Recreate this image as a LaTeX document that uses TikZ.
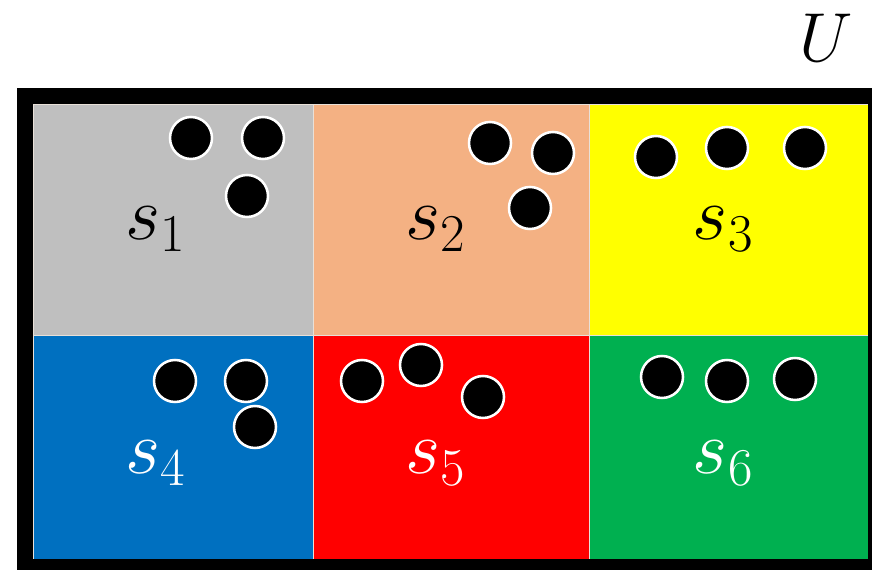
\RequirePackage{fix-cm}
\documentclass[tikz,border=0pt]{standalone}
\definecolor{cellgray}{HTML}{BFBFBF}
\definecolor{cellorange}{HTML}{F4B183}
\definecolor{cellyellow}{HTML}{FFFF00}
\definecolor{cellblue}{HTML}{0070C0}
\definecolor{cellred}{HTML}{FF0000}
\definecolor{cellgreen}{HTML}{00B050}
\definecolor{seam}{HTML}{E8E0D8}
\begin{document}
\begin{tikzpicture}[x=0.75pt,y=-0.75pt,
  cell/.style={draw=seam,line width=0.6pt},
  pt/.style={circle,fill=black,draw=white,line width=1.9pt,minimum size=31.5pt,inner sep=0pt},
  setlabel/.style={anchor=base,inner sep=0pt,font=\fontsize{57}{64}\selectfont},
]
\useasboundingbox (0,0) rectangle (872,570);
\fill[white] (0,0) rectangle (872,570);
% universe frame
\fill[black] (17,88) rectangle (890,590);
% partition cells
\path[cell,fill=cellgray]   (33,104)  rectangle (313,335);
\path[cell,fill=cellorange] (313,104) rectangle (589,335);
\path[cell,fill=cellyellow] (589,104) rectangle (868,335);
\path[cell,fill=cellblue]   (33,335)  rectangle (313,559);
\path[cell,fill=cellred]    (313,335) rectangle (589,559);
\path[cell,fill=cellgreen]  (589,335) rectangle (868,559);
\fill[black] (17,559) rectangle (890,590);
\fill[black] (868,88) rectangle (890,590);
% universe label
\node[anchor=base,inner sep=0pt,font=\fontsize{52}{60}\selectfont] (U) at (826,62) {$U$};
% set labels
\node[setlabel] (l1) at (156,240) {$s_1$};
\node[setlabel] (l2) at (436,240) {$s_2$};
\node[setlabel] (l3) at (723,240) {$s_3$};
\node[setlabel,text=white] (l4) at (156,474) {$s_4$};
\node[setlabel,text=white] (l5) at (436,474) {$s_5$};
\node[setlabel,text=white] (l6) at (723,474) {$s_6$};
% elements
\node[pt] (a1) at (191,138) {};
\node[pt] (a2) at (263,138) {};
\node[pt] (a3) at (247,196) {};
\node[pt] (b1) at (490,143) {};
\node[pt] (b2) at (553,153) {};
\node[pt] (b3) at (530,208) {};
\node[pt] (c1) at (656,157) {};
\node[pt] (c2) at (727,148) {};
\node[pt] (c3) at (805,148) {};
\node[pt] (d1) at (175,381) {};
\node[pt] (d2) at (246,381) {};
\node[pt] (d3) at (255,427) {};
\node[pt] (e1) at (362,381) {};
\node[pt] (e2) at (421,365) {};
\node[pt] (e3) at (483,397) {};
\node[pt] (f1) at (662,377) {};
\node[pt] (f2) at (727,381) {};
\node[pt] (f3) at (795,379) {};
\end{tikzpicture}
\end{document}
